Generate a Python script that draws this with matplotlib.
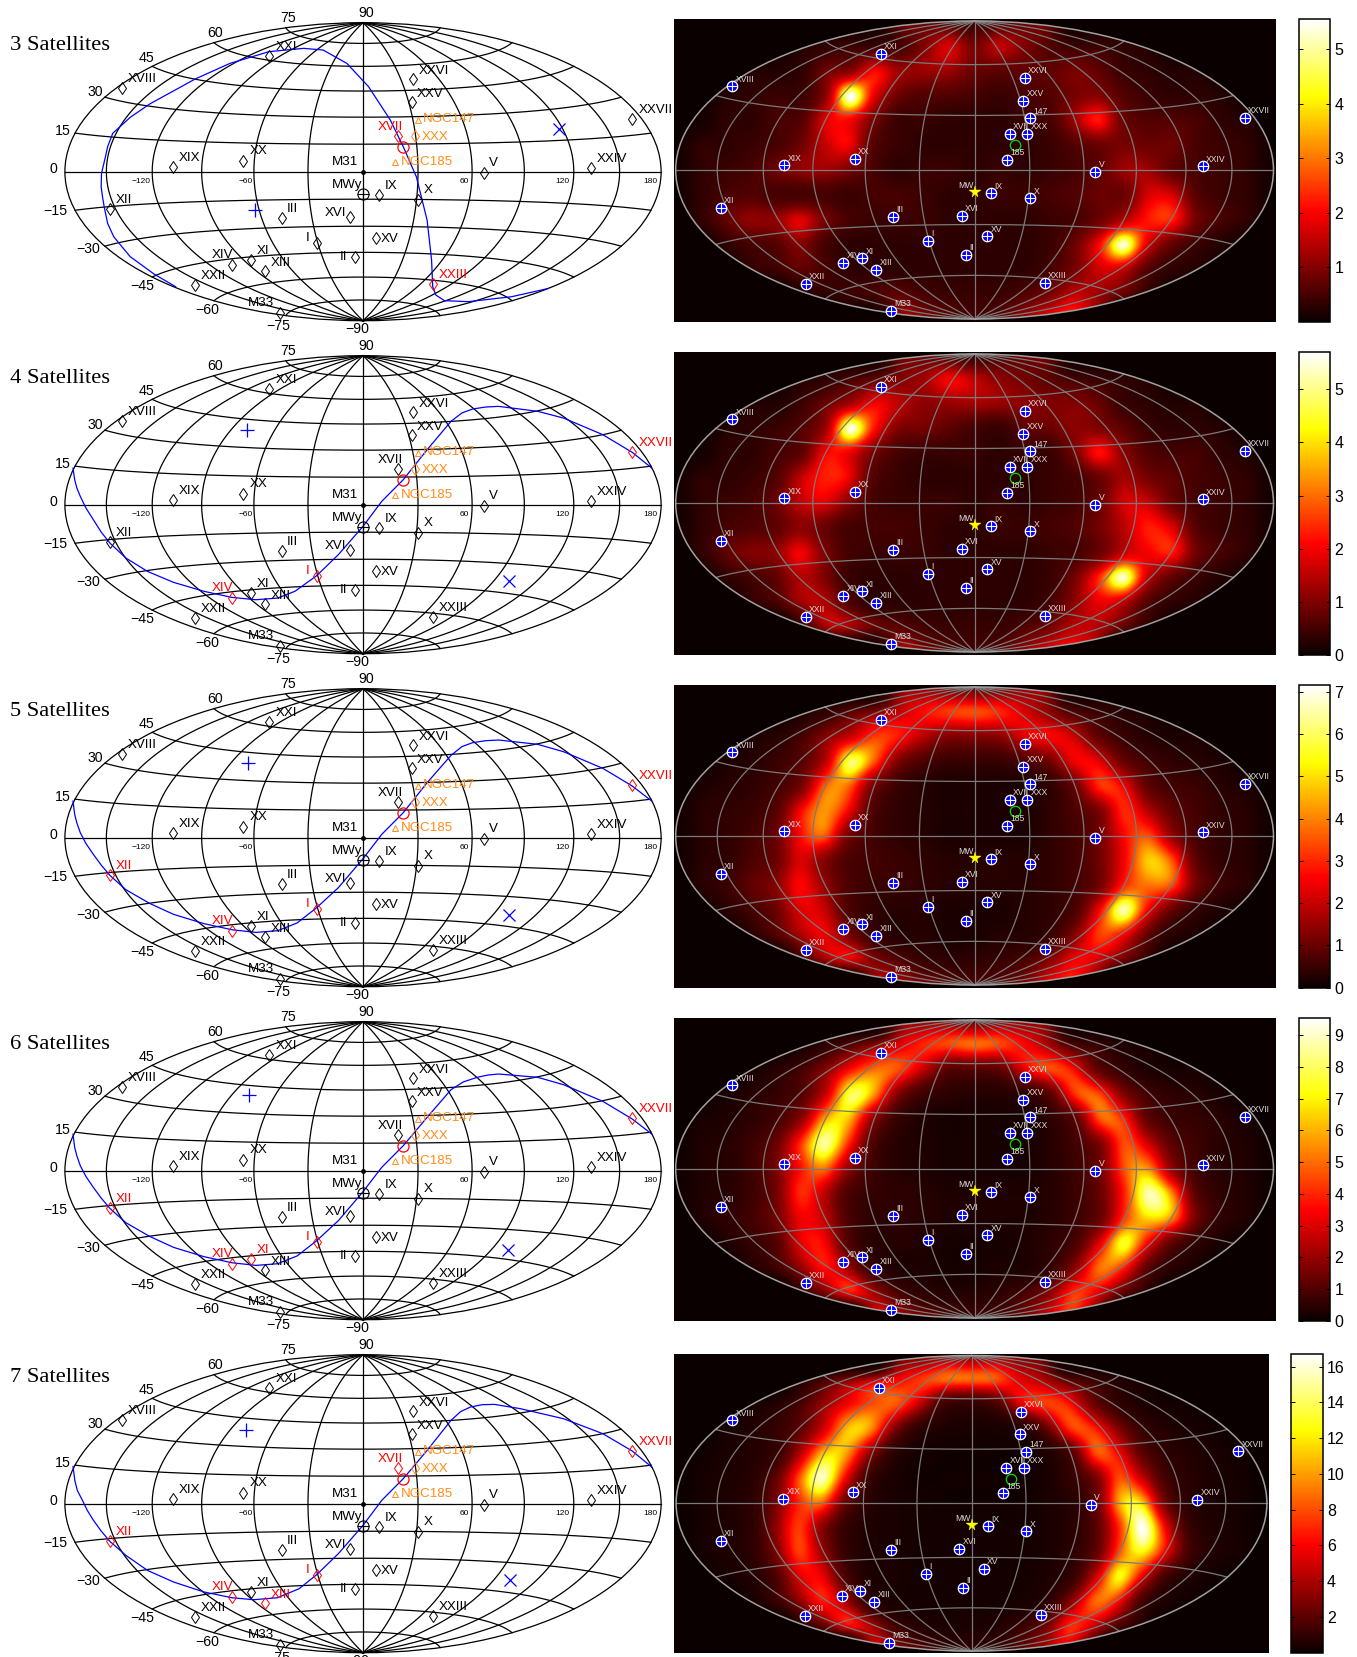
import numpy as np
import matplotlib
matplotlib.use("Agg")
import matplotlib.pyplot as plt
from matplotlib.patches import Ellipse
from matplotlib.colors import ListedColormap, Normalize
from matplotlib.cm import ScalarMappable

plt.rcParams['font.family'] = ['Liberation Sans', 'DejaVu Sans']

W, H = 1357, 1657

# all sky positions are map coordinates:
# x -180..180 across the ellipse, y -90..90 up the ellipse
sat_names = ["XXI","XVIII","XXVI","XXV","NGC147","XVII","XXX","NGC185","XX","XIX","XXIV","XXVII","V","IX","X",
             "XII","III","XVI","I","XV","II","XIV","XI","XIII","XXII","XXIII","M33"]
sat_x = [-56.6,-145.8,30.1,29.3,33.3,21.2,31.7,19.4,-72.3,-114.7,137.5,162.6,72.8,9.9,33.5,
         -152.9,-49.0,-7.6,-28.0,7.6,-5.0,-79.1,-67.8,-59.2,-101.6,42.2,-50.3]
sat_y = [70.1,50.5,55.8,41.9,31.2,21.7,21.7,6.0,6.6,2.8,2.2,31.6,-1.0,-14.1,-17.1,
         -22.8,-28.2,-27.6,-42.9,-40.1,-51.3,-56.2,-53.4,-60.2,-68.7,-68.1,-85.2]
short_names = {"NGC147": "147", "NGC185": "185"}
orange_sats = ["NGC147", "XXX", "NGC185"]

m31_xy = (0, 0)
mw_xy = (0, -13.5)
centre_xy = (24.3, 15.1)

titles = ["3 Satellites", "4 Satellites", "5 Satellites", "6 Satellites", "7 Satellites"]
red_sats = [["XVII", "XXIII"],
            ["I", "XIV", "XXVII"],
            ["I", "XIV", "XXVII", "XII"],
            ["I", "XIV", "XI", "XII", "XXVII"],
            ["XVII", "XIV", "XIII", "XII", "I", "XXVII"]]

plus_x = [-65.2, -69.9, -69.6, -68.9, -70.4]
plus_y = [-23.1, 44.9, 44.9, 45.7, 44.7]
cross_x = [118.6, 88.0, 88.0, 87.4, 88.5]
cross_y = [25.6, -46.3, -46.9, -47.7, -45.9]

curve1_x = [-113.1,-126.2,-140.6,-150.5,-154.2,-156.3,-157.3,-158.1,-157.9,-155.5,-154.2,-151.1,-140.6,-128.8,-101.3,-80.4,-56.8,-35.9,-24.1,-9.7,3.4,16.5,24.3,32.2,38.7,41.4,42.1,44,49.2,63.6,89.8,112]
curve1_y = [-69.5,-61.8,-51.3,-39.3,-31.2,-21.1,-15.1,-9.1,-1,9.1,15.1,23.2,32.8,40.9,56,65.4,72.5,74.5,73.5,65.4,51.3,31.2,15.1,-3,-29.2,-53.3,-69.5,-74.5,-77.9,-78.5,-75.5,-70.5]
curve2_x = [-175.1,-174.1,-172.8,-170.7,-167.3,-162.8,-158.1,-152.9,-143.2,-130.1,-114.4,-96.1,-79.1,-64.7,-51.6,-41.1,-28,-14.9,0,11.3,24.3,38.7,53.1,59.7,66.2,74.1,81.9,105.5,121.2,144.8,162.6,174.4]
curve2_y = [22.1,15.1,10.1,5,-2,-9.1,-16.5,-23.1,-32.2,-40.3,-46.9,-52.3,-56,-57.4,-56.4,-52.3,-42.9,-30.2,-13.1,2,15.1,33.2,50.3,55.4,57.8,59,59.4,56.4,52.3,42.3,31.6,22.1]
curve3_x = [-175.1,-174.1,-172.8,-170.7,-167.3,-162.8,-158.1,-152.9,-143.2,-128.8,-114.4,-96.1,-79.1,-64.7,-51.6,-39.8,-28,-14.9,0,11.3,24.3,38.7,53.1,59.7,66.2,74.1,81.9,105.5,121.2,144.8,162.6,174.4]
curve3_y = [22.1,14.1,9,3,-3.5,-10.1,-16.5,-22.7,-31.4,-39.7,-46.3,-51.9,-55.6,-57.2,-56.2,-51.5,-42.3,-30.2,-12.7,2,15.1,33.2,49.7,55,57.4,58.6,59,56.4,51.9,41.9,31.2,22.1]
curve4_x = [-175.1,-174.1,-172.8,-170.7,-167.3,-162.8,-158.1,-152.9,-143.2,-128.8,-114.4,-96.1,-79.1,-64.7,-51.6,-39.8,-28,-14.9,0,11.3,24.3,38.7,53.1,60.5,68.9,75.5,81.9,105.5,121.2,144.8,162.6,174.4]
curve4_y = [22.1,14.1,9,3,-3.5,-10.1,-16.5,-22.7,-31.4,-39.7,-46.3,-51.9,-55.6,-57.2,-56.2,-51.5,-42.3,-30.2,-12.7,2,15.1,32.2,48.9,53.6,56.4,57.8,58.4,56.4,51.9,41.9,31.2,22.1]
curve5_x = [-175.1,-174,-172.5,-169.4,-166.5,-162.8,-158.1,-152.9,-143.2,-130.1,-114.4,-96.1,-79.1,-66,-51.6,-38.5,-28,-14.9,0,11.3,24.3,38.7,53.1,58.9,64.9,72,79.3,95,121.2,144.8,162.6,174.4]
curve5_y = [22.5,14,8,2,-4,-10,-16.5,-22.7,-31.2,-40.3,-47.3,-53.3,-56.8,-58,-56.8,-51.3,-42.9,-30.2,-13.1,2,15.1,32.2,50.3,55.6,58.4,59.8,60,57.4,51.3,42.3,31.8,22.1]
curves = [(curve1_x, curve1_y), (curve2_x, curve2_y), (curve3_x, curve3_y), (curve4_x, curve4_y), (curve5_x, curve5_y)]

lat_labels = ["90","75","60","45","30","15","0","\u221215","\u221230","\u221245","\u221260","\u221275","\u221290"]
lat_label_x = [2.1,-45,-89.5,-130.6,-161.8,-181.2,-186.9,-185.6,-166,-133.5,-94,-51,-3.7]
lat_label_y = [96,92.6,83.9,68.4,47.9,24.8,1.4,-23.6,-46.5,-68.8,-83.5,-93,-95]
lon_labels = ["\u2212120","\u221260","60","120","180"]
lon_label_x = [-134,-70.7,61,120.7,173.6]
lon_label_y = -6.2

# density maps, one value each 15 map units, rows from y=90 down to y=-90, columns x=-180..180
density1 = np.array([
 [0,0,0,0,0,0,0,0,0,.8,.8,.6,.4,.6,.8,.8,0,0,0,0,0,0,0,0,0],
 [0,0,0,0,0,.2,.3,.4,.4,.5,1,1.7,.9,1.5,1,.6,.4,.4,.3,.2,0,0,0,0,0],
 [0,0,0,.2,.2,.3,.8,1,2,1.2,1.2,1.2,.8,.7,.7,.7,.9,.7,.4,.3,.2,.2,0,0,0],
 [0,0,.2,.3,.4,.4,1,5.5,1.8,.8,.6,.6,.5,.4,.5,.6,.9,1,.6,.4,.3,.3,.2,0,0],
 [0,.1,.3,.3,.5,.6,1.7,2,.9,.4,.4,.3,.3,.3,.4,.5,1.2,2.2,.8,.6,.6,.5,.3,.2,0],
 [.1,.3,.3,.4,.5,.8,1.5,1.9,.6,.4,.3,.3,.3,.3,.3,.4,.6,.8,.9,.8,.8,.5,.4,.3,.1],
 [.1,.3,.4,.5,.8,1.1,1.2,.9,.5,.3,.4,.4,.3,.4,.3,.4,.5,.7,1.2,1.2,.7,.5,.4,.3,.1],
 [.1,.3,.5,.6,.5,.5,.5,.4,.5,.5,.4,.3,.3,.4,.4,.5,.6,.8,.8,1.7,1.6,.6,.4,.3,.1],
 [.1,.3,.7,1.1,1.1,1.8,.9,.5,.4,.4,.4,.3,.3,.3,.3,.4,.5,.8,1.4,2.2,2.2,.8,.5,.3,.1],
 [0,.1,.3,.5,.6,1,.5,.3,.3,.3,.3,.3,.3,.3,.3,.4,.8,2,5.3,1.6,.7,.4,.2,.1,0],
 [0,0,0,.3,.4,.7,.5,.3,.3,.3,.3,.3,.3,.3,.3,.5,.9,1.6,1.5,.6,.3,.2,0,0,0],
 [0,0,0,0,0,.2,.3,.4,.5,.7,.5,.4,.4,.4,.6,.9,1.5,1.2,.7,.3,0,0,0,0,0],
 [0,0,0,0,0,0,0,0,0,1.2,1,.7,.5,.7,1.2,2,2.5,1,0,0,0,0,0,0,0]])
density2 = np.array([
 [0,0,0,0,0,0,0,0,0,.8,.8,.6,.4,.6,.8,.8,0,0,0,0,0,0,0,0,0],
 [0,0,0,0,0,.2,.3,.5,.7,1,1.3,2,1.5,1.1,.9,.7,.5,.4,.3,.2,0,0,0,0,0],
 [0,0,0,.2,.2,.4,.8,1.3,2,1.5,1.1,1.2,1.3,1.2,1.1,1,1,.8,.4,.3,.2,.2,0,0,0],
 [0,0,.2,.3,.4,.6,1.2,5.5,2.2,1,.9,.7,.5,.4,.7,.8,1.1,1,.7,.4,.3,.3,.2,0,0],
 [0,.1,.3,.3,.5,.7,2,1.9,.9,.5,.4,.4,.4,.3,.4,.4,.9,2.2,1.1,.6,.5,.5,.3,.2,0],
 [.1,.3,.3,.4,.6,1.5,2.3,1.9,.6,.4,.3,.3,.3,.3,.3,.4,.5,.8,1.3,.9,.7,.5,.4,.3,.1],
 [.1,.3,.4,.5,.8,1.5,1.8,1,.5,.4,.4,.4,.3,.4,.3,.4,.5,.8,1.7,1.6,.8,.5,.4,.3,.1],
 [.1,.3,.5,.6,.7,1.1,.8,.5,.5,.5,.4,.3,.3,.4,.4,.5,.6,.9,1.5,2.3,1.7,.6,.4,.3,.1],
 [.1,.3,.7,1,1.1,2,1,.5,.4,.4,.4,.3,.3,.3,.3,.4,.5,.8,1.6,2,2.2,.8,.5,.3,.1],
 [0,.1,.3,.5,.7,1.4,1,.4,.3,.3,.3,.3,.3,.3,.3,.4,.9,2.4,5.4,1.5,.7,.4,.2,.1,0],
 [0,0,0,.3,.5,1.2,1.4,.6,.3,.3,.3,.3,.3,.3,.3,.5,1.1,1.9,1.5,.6,.3,.2,0,0,0],
 [0,0,0,0,0,.3,1.2,1.3,.8,.7,.5,.4,.4,.4,.6,.9,1.5,1.4,.7,.3,0,0,0,0,0],
 [0,0,0,0,0,0,0,0,0,1.4,1,.7,.5,.7,1.2,2,2.2,1,0,0,0,0,0,0,0]])
density3 = np.array([
 [0,0,0,0,0,0,0,0,0,1.2,1.5,1.2,1,1.2,1.5,1.2,0,0,0,0,0,0,0,0,0],
 [0,0,0,0,0,.2,.4,.8,1.2,2,2.7,3.2,3.4,3,2.2,1.4,.7,.5,.3,.2,0,0,0,0,0],
 [0,0,0,.2,.3,.6,1.3,2,3.2,2.8,1.8,1.3,1.3,1.4,2.2,2.6,2,.9,.5,.3,.2,.2,0,0,0],
 [0,0,.2,.3,.5,.8,1.8,6,3.5,1.2,.7,.5,.5,.5,.7,1.1,2.4,2.3,1,.6,.4,.3,.2,0,0],
 [0,.2,.3,.4,.6,1.1,3.6,3.6,1.1,.5,.3,.2,.2,.2,.2,.4,1,3,2.5,.9,.6,.5,.3,.2,0],
 [.1,.3,.4,.5,.8,2.5,4.2,2.4,.7,.4,.3,.2,.2,.2,.2,.4,.7,1.2,3,1.8,.9,.6,.4,.3,.1],
 [.1,.3,.4,.6,1,2.6,3.5,1.1,.6,.4,.3,.2,.2,.2,.2,.4,.6,1.1,2.6,3.4,1.4,.6,.4,.3,.1],
 [.1,.3,.4,.7,1,2.2,1.3,.7,.6,.5,.4,.3,.3,.3,.3,.4,.6,1.1,2.5,4.8,3.3,.8,.4,.3,.1],
 [.1,.3,.5,.9,1.3,2.6,1.5,.7,.5,.5,.4,.3,.3,.3,.3,.4,.6,1.1,3,3.8,3.2,1,.5,.3,.1],
 [0,.1,.3,.6,1,2.2,2,.7,.4,.3,.3,.2,.2,.2,.3,.4,.7,2.5,6.6,2.4,.9,.4,.2,.1,0],
 [0,0,0,.3,.7,1.6,2.4,1.2,.5,.3,.3,.2,.2,.3,.3,.5,1.3,3.2,2.5,.9,.3,.2,0,0,0],
 [0,0,0,0,0,.5,1.4,2.2,1.3,.8,.5,.4,.4,.5,.7,1.3,2.5,2.1,1,.4,0,0,0,0,0],
 [0,0,0,0,0,0,0,0,1.5,1.8,1.2,.9,.7,.9,1.2,2.5,2.8,1,0,0,0,0,0,0,0]])
density4 = np.array([
 [0,0,0,0,0,0,0,0,0,1.5,2,2,1.5,2,2,1.5,0,0,0,0,0,0,0,0,0],
 [0,0,0,0,0,.2,.5,1,1.7,3,4,4.5,5,4.5,3.5,2.2,.9,.6,.3,.2,0,0,0,0,0],
 [0,0,0,.2,.4,.8,1.7,3.5,5,4.5,2.5,1.1,1.1,1.2,3,4.5,3.5,1.2,.6,.3,.2,.2,0,0,0],
 [0,0,.2,.4,.6,1,2.6,7.8,5.5,1.6,.7,.5,.4,.4,.5,1.1,4,4.5,1.7,.8,.5,.4,.2,0,0],
 [0,.2,.3,.5,.8,1.8,5.8,6,1.8,.6,.3,.2,.2,.2,.2,.5,1.1,4.5,4,1.2,.7,.6,.4,.2,0],
 [.1,.3,.4,.7,1.3,4,8.6,3.8,.9,.4,.3,.2,.2,.2,.2,.4,.8,1.6,4.5,2.8,1.1,.7,.4,.3,.1],
 [.1,.3,.4,.7,1.5,3.6,5,1.8,.7,.4,.3,.2,.2,.2,.2,.4,.7,1.4,4.5,5.5,1.8,.7,.4,.3,.1],
 [.1,.3,.4,.7,1.4,4,2.5,.9,.6,.5,.4,.3,.3,.3,.3,.4,.7,1.3,3.8,8.8,5,1,.5,.3,.1],
 [.1,.3,.5,.8,1.4,3.2,2.6,.9,.5,.5,.4,.3,.3,.3,.3,.4,.7,1.3,4.2,6.5,5,1.3,.5,.3,.1],
 [0,.1,.3,.6,1,3,3.4,1,.4,.4,.3,.2,.2,.2,.3,.5,.9,3,7.5,3.2,1.1,.5,.2,.1,0],
 [0,0,0,.3,.7,1.8,3.6,2,.6,.3,.3,.2,.2,.3,.3,.6,1.8,5,3.8,1.1,.4,.2,0,0,0],
 [0,0,0,0,0,.5,1.5,3.5,2.2,.9,.5,.4,.4,.5,.9,1.8,4.2,3,1.1,.4,0,0,0,0,0],
 [0,0,0,0,0,0,0,0,2.5,2.5,1.5,1,.8,1,1.5,3,4,1,0,0,0,0,0,0,0]])
density5 = np.array([
 [0,0,0,0,0,0,0,0,0,2,3,4,3.5,4,3,2,0,0,0,0,0,0,0,0,0],
 [0,0,0,0,0,.5,1.5,3,4.5,6,7.5,8.5,8.5,8,5.5,4,2,1.2,.6,.3,0,0,0,0,0],
 [0,0,0,.3,.6,1.5,3.5,6,8,8,4,1.2,1,1.5,5,7.5,6.5,2.5,1,.5,.3,.2,0,0,0],
 [0,0,.3,.6,1,2,5,11,9,2.5,.8,.5,.4,.4,.6,2,7,7,3,1.1,.6,.4,.2,0,0],
 [0,.2,.4,.6,1,4,11,9.5,2.8,.7,.3,.2,.2,.2,.2,.5,1.5,7.5,6,2,.9,.6,.4,.2,0],
 [.1,.3,.5,.7,2,8,15.5,5,1,.4,.2,.2,.2,.2,.2,.4,1,2.5,8,4.5,1.3,.7,.4,.3,.1],
 [.1,.3,.5,.8,2.5,7,8,2,.7,.4,.3,.2,.2,.2,.2,.4,.7,2,10,11,2.2,.7,.4,.3,.1],
 [.1,.3,.5,.8,3,7.5,3,1,.5,.4,.3,.3,.3,.3,.3,.4,.7,1.8,7,16.5,5,1,.5,.3,.1],
 [.1,.3,.5,.8,2.5,7.5,3.5,1,.5,.4,.3,.3,.3,.3,.3,.4,.8,2,8,12,5,1.2,.5,.3,.1],
 [0,.1,.3,.6,1.5,5,5.5,1.5,.5,.4,.3,.3,.3,.3,.3,.5,1,4.5,12.5,5,1.2,.5,.2,.1,0],
 [0,0,0,.3,1,3,6.5,3.5,.8,.4,.3,.3,.3,.3,.4,.8,3,8.5,6,1.3,.4,.2,0,0,0],
 [0,0,0,0,0,.6,2,5.5,4,1.3,.7,.5,.5,.6,1.2,2.5,7,4.5,1.5,.5,0,0,0,0,0],
 [0,0,0,0,0,0,0,0,4,3.5,2,1.2,1,1.2,2,4,5,1,0,0,0,0,0,0,0]])
densities = [density1, density2, density3, density4, density5]

cbar_max = [5.55, 5.7, 7.15, 9.53, 16.7]
cbar_ticks = [[1,2,3,4,5], [0,1,2,3,4,5], [0,1,2,3,4,5,6,7], [0,1,2,3,4,5,6,7,8,9], [2,4,6,8,10,12,14,16]]

# label offsets in pixels from the marker, in the order of sat_names
left_dx = [6.1,6.5,6.1,5.6,5.2,-20.8,6.1,5.6,6.1,5.6,6.1,6.1,5.2,5.6,5.6,5.6,5.2,-26,-10.4,5.6,-15.2,-20.4,6.1,5.6,5.6,5.6,-31.7]
left_dy = [9,9,8.7,8.3,1,9,-1,-.7,9.7,9.3,9,9.3,10,9.3,10,9.3,9.3,4.7,4.3,-.7,-.7,9.3,9.3,8.7,9.3,9.3,9.3]

row_top = [0, 333, 666, 999, 1332]


def px_axes(fig, x0, y0, w, h):
    return fig.add_axes([x0 / W, 1 - (y0 + h) / H, w / W, h / H])


def hammer(lon, lat):
    lon = np.radians(lon)
    lat = np.radians(lat)
    z = np.sqrt(1 + np.cos(lat) * np.cos(lon / 2))
    return 180 * np.cos(lat) * np.sin(lon / 2) / z, 90 * np.sin(lat) / z


def graticule(ax, lat_step, color, lw):
    t = np.linspace(-90, 90, 181)
    for lon in range(-150, 151, 30):
        x, y = hammer(lon * np.ones_like(t), t)
        ax.plot(x, y, color=color, lw=lw, zorder=3)
    s = np.linspace(-180, 180, 241)
    for lat in range(-90 + lat_step, 90, lat_step):
        x, y = hammer(s, lat * np.ones_like(s))
        ax.plot(x, y, color=color, lw=lw, zorder=3)


def leftPanel(fig, i):
    top = row_top[i]
    ax = px_axes(fig, 0, top, 680, 333)
    ax.set_xlim((0 - 363) / 298.1 * 180, (680 - 363) / 298.1 * 180)
    ax.set_ylim((171.7 - 333) / 149 * 90, 171.7 / 149 * 90)
    ax.axis("off")

    graticule(ax, 15, "black", 0.9)
    ax.add_patch(Ellipse((0, 0), 360, 180, fill=False, ec="black", lw=0.9, zorder=3))

    cx, cy = curves[i]
    ax.plot(cx, cy, color="#0000ff", lw=0.9, zorder=4)
    ax.plot(plus_x[i], plus_y[i], "+", color="#0000ff", ms=10, mew=0.9, zorder=5)
    ax.plot(cross_x[i], cross_y[i], "x", color="#0000ff", ms=8, mew=0.9, zorder=5)

    for j, name in enumerate(sat_names):
        color = "black"
        if name in red_sats[i]:
            color = "#ff0000"
        if name in orange_sats:
            color = "#ff8c1a"
        marker = "^" if name.startswith("NGC") else "d"
        ms = 4 if name.startswith("NGC") else 6.5
        ax.plot(sat_x[j], sat_y[j], marker, ms=ms, mfc="none", mec=color, mew=0.7, zorder=6)
        ax.annotate(name, (sat_x[j], sat_y[j]), xytext=(left_dx[j], left_dy[j]), textcoords="offset pixels",
                    ha="left", va="center", fontsize=9.6, color=color, annotation_clip=False, zorder=7)

    ax.plot(*centre_xy, "o", ms=8, mfc="none", mec="#ff0000", mew=0.9, zorder=6)
    ax.plot(*m31_xy, "o", ms=2.5, color="black", zorder=6)
    ax.plot(*m31_xy, "+", ms=6, color="black", mew=0.7, zorder=6)
    ax.plot(*mw_xy, "o", ms=8, mfc="none", mec="black", mew=0.8, zorder=6)
    ax.plot(*mw_xy, "+", ms=8, color="black", mew=0.8, zorder=6)
    ax.annotate("M31", m31_xy, xytext=(-31.2, 9.3), textcoords="offset pixels", ha="left", va="center", fontsize=9.6)
    ax.annotate("MWy", mw_xy, xytext=(-31.2, 8.7), textcoords="offset pixels", ha="left", va="center", fontsize=9.6)

    for txt, x, y in zip(lat_labels, lat_label_x, lat_label_y):
        ax.text(x, y, txt, ha="center", va="center", fontsize=10.2, clip_on=False)
    for txt, x in zip(lon_labels, lon_label_x):
        ax.text(x, lon_label_y, txt, ha="center", va="center", fontsize=6, clip_on=False)

    ax.text(-213.4, 76.2, titles[i], family="Liberation Serif", fontsize=16.2, ha="left", va="center")


def rightPanel(fig, i):
    top = row_top[i]
    if i < 4:
        box = (674.4, top + 19.3, 601.6, 302.4)
        cbox = (1298.8, top + 19.3, 31.6, 302.4)
        cen, sx, sy = (974.6, top + 170), 298.9, 149
    else:
        box = (674.4, 1354, 594.6, 298.7)
        cbox = (1291.4, 1354, 31.5, 298.7)
        cen, sx, sy = (971.5, 1503.3), 295.4, 147.8

    ax = px_axes(fig, *box)
    # the grid is interpolated in log density so that the narrow ring stays narrow
    vmax = cbar_max[i]
    floor = 0.08
    levels = np.linspace(np.log(floor), np.log(vmax), 1024)
    log_cmap = ListedColormap(plt.get_cmap("hot")(np.exp(levels) / vmax))
    im = ax.imshow(np.log(np.maximum(densities[i], floor)), cmap=log_cmap, vmin=levels[0], vmax=levels[-1],
                   aspect="auto", origin="upper", extent=(-187.5, 187.5, -97.5, 97.5),
                   interpolation="catrom", zorder=1)
    clip = Ellipse((0, 0), 360, 180, transform=ax.transData, fc="none", ec="none")
    ax.add_patch(clip)
    im.set_clip_path(clip)

    ax.set_xlim((box[0] - cen[0]) / sx * 180, (box[0] + box[2] - cen[0]) / sx * 180)
    ax.set_ylim((cen[1] - box[1] - box[3]) / sy * 90, (cen[1] - box[1]) / sy * 90)
    ax.set_facecolor(plt.get_cmap("hot")(0.0))
    ax.set_xticks([])
    ax.set_yticks([])
    for s in ax.spines.values():
        s.set_visible(False)

    graticule(ax, 30, "#7a7a7a", 0.9)
    ax.add_patch(Ellipse((0, 0), 360, 180, fill=False, ec="#a0a0a0", lw=1.1, zorder=3))

    for j, name in enumerate(sat_names):
        ax.plot(sat_x[j], sat_y[j], "o", ms=7.5, mfc="#0000ff", mec="white", mew=0.9, zorder=5)
        ax.plot(sat_x[j], sat_y[j], "+", ms=7.5, color="white", mew=0.8, zorder=6)
        ax.annotate(short_names.get(name, name), (sat_x[j], sat_y[j]), xytext=(3.3, 7.3), textcoords="offset pixels",
                    ha="left", va="center", fontsize=6.2, color="#dddddd", zorder=7)

    ax.plot(*centre_xy, "o", ms=7.5, mfc="none", mec="#00e000", mew=0.9, zorder=6)
    ax.plot(*mw_xy, "*", ms=8.5, color="#ffff00", mec="#ffff00", mew=0.3, zorder=6)
    ax.annotate("MW", mw_xy, xytext=(-16, 6.7), textcoords="offset pixels", ha="left", va="center",
                fontsize=6.2, color="#dddddd", zorder=7)

    cax = px_axes(fig, *cbox)
    sm = ScalarMappable(norm=Normalize(0, vmax), cmap="hot")
    cb = fig.colorbar(sm, cax=cax)
    cb.set_ticks(cbar_ticks[i])
    cb.ax.tick_params(left=True, right=True, direction="in", length=3, width=0.7, labelsize=11.5, pad=3)
    cb.outline.set_linewidth(1.1)


fig = plt.figure(figsize=(W / 100, H / 100), dpi=100)
for i in range(5):
    leftPanel(fig, i)
    rightPanel(fig, i)
fig.savefig("out.png", dpi=100)
